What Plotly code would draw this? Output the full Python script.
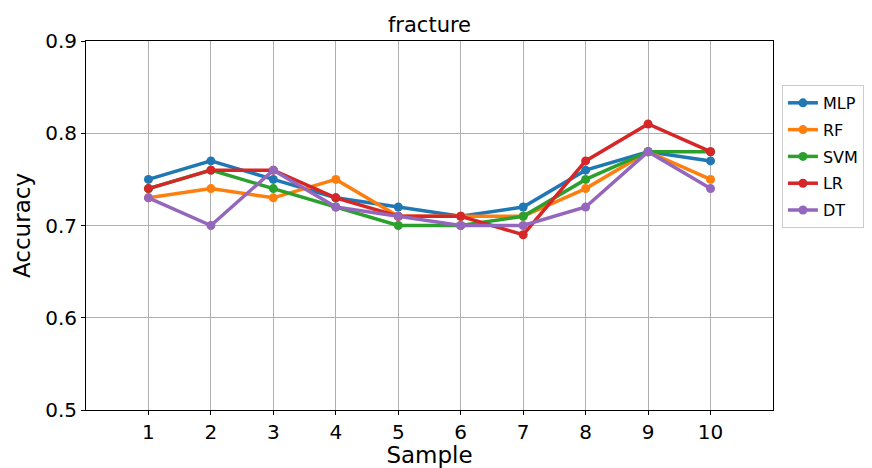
import plotly.graph_objects as go

samples = [1, 2, 3, 4, 5, 6, 7, 8, 9, 10]
mlp = [0.75, 0.77, 0.75, 0.73, 0.72, 0.71, 0.72, 0.76, 0.78, 0.77]
rf = [0.73, 0.74, 0.73, 0.75, 0.71, 0.71, 0.71, 0.74, 0.78, 0.75]
svm = [0.74, 0.76, 0.74, 0.72, 0.70, 0.70, 0.71, 0.75, 0.78, 0.78]
lr = [0.74, 0.76, 0.76, 0.73, 0.71, 0.71, 0.69, 0.77, 0.81, 0.78]
dt = [0.73, 0.70, 0.76, 0.72, 0.71, 0.70, 0.70, 0.72, 0.78, 0.74]
series_names = ["MLP", "RF", "SVM", "LR", "DT"]
colors = ["#1f77b4", "#ff7f0e", "#2ca02c", "#d62728", "#9467bd"]
y_ticks = [0.5, 0.6, 0.7, 0.8, 0.9]

fig = go.Figure()
for name, vals, c in zip(series_names, [mlp, rf, svm, lr, dt], colors):
    fig.add_trace(go.Scatter(
        x=samples, y=vals, name=name, mode="lines+markers",
        legendgroup=name,
        line=dict(color=c, width=3.5), marker=dict(color=c, size=9),
    ))

font = "DejaVu Sans"
fig.update_layout(
    width=864, height=460,
    paper_bgcolor="white", plot_bgcolor="white",
    margin=dict(l=78, r=99, t=33, b=58, autoexpand=False),
    font=dict(family=font, color="black"),
    title=dict(text="fracture", x=0.5, xref="paper", xanchor="center",
               y=1, yref="paper", yanchor="bottom", pad=dict(b=9),
               font=dict(size=21, family=font, color="black")),
    showlegend=True,
    legend=dict(x=1.013, y=0.881, xanchor="left", yanchor="top",
                bordercolor="#cccccc", borderwidth=1, bgcolor="white",
                font=dict(size=16, family=font), itemwidth=30,
                tracegroupgap=3),
)
fig.update_xaxes(
    range=[0, 11], tickmode="array", tickvals=samples,
    ticktext=[str(s) for s in samples],
    showgrid=True, gridcolor="#b0b0b0", gridwidth=1,
    showline=True, linecolor="black", linewidth=1, mirror=True,
    ticks="outside", ticklen=4, tickcolor="black",
    tickfont=dict(size=20, family=font),
    title=dict(text="Sample", font=dict(size=23, family=font), standoff=2),
    zeroline=False, automargin=True,
)
fig.update_yaxes(
    range=[0.5, 0.9], tickmode="array", tickvals=y_ticks,
    ticktext=[f"{v:.1f}" for v in y_ticks],
    showgrid=True, gridcolor="#b0b0b0", gridwidth=1,
    showline=True, linecolor="black", linewidth=1, mirror=True,
    ticks="outside", ticklen=4, tickcolor="black",
    tickfont=dict(size=20, family=font),
    title=dict(text="Accuracy", font=dict(size=23, family=font), standoff=8),
    zeroline=False, automargin=True,
)
fig.write_html("out.html")
